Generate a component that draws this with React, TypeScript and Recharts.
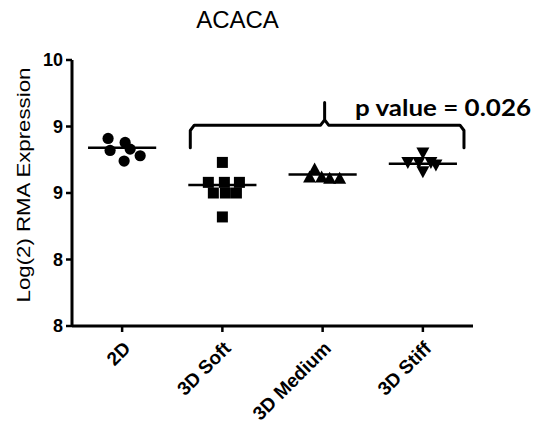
import { ScatterChart, Scatter, XAxis, YAxis, ReferenceLine } from "recharts";

const categories = ["2D", "3D Soft", "3D Medium", "3D Stiff"];
const yTicks = [8, 8.5, 9, 9.5, 10];
const yTickLabels = ["8", "8", "9", "9", "10"];

// per-sample horizontal jitter (category units) and log2 expression
const jitter2D = [-0.14, 0.03, -0.12, 0.08, 0.02, 0.18];
const values2D = [9.41, 9.38, 9.32, 9.33, 9.24, 9.28];
const jitterSoft = [0.0, -0.14, 0.02, 0.17, -0.09, 0.03, 0.14, 0.0];
const valuesSoft = [9.23, 9.08, 9.08, 9.08, 9.0, 9.0, 9.0, 8.82];
const jitterMedium = [-0.08, -0.13, 0.07, 0.17, -0.01];
const valuesMedium = [9.18, 9.12, 9.11, 9.11, 9.12];
const jitterStiff = [0.0, -0.15, -0.04, 0.08, 0.13, 0.0];
const valuesStiff = [9.3, 9.23, 9.23, 9.23, 9.21, 9.16];
const means = [9.34, 9.06, 9.14, 9.22];

// significance bracket over the 3D groups
const bracketX = [0.68, 0.68, 0.72, 1.98, 2.02, 2.02, 2.02, 2.06, 3.37, 3.41, 3.41];
const bracketY = [9.34, 9.47, 9.51, 9.51, 9.55, 9.68, 9.55, 9.51, 9.51, 9.47, 9.34];
const pLabel = "p value = 0.026";

const toPoints = (cat: number, jit: number[], vals: number[]) =>
  vals.map((v, i) => ({ x: cat + jit[i], y: v }));

const bracket = bracketX.map((x, i) => ({ x, y: bracketY[i] }));

const Dot = (p: any) => <circle cx={p.cx} cy={p.cy} r={5.6} fill="#000" />;
const Sq = (p: any) => <rect x={p.cx - 5.5} y={p.cy - 5.5} width={11} height={11} fill="#000" />;
const Tri = (p: any) => (
  <polygon points={`${p.cx},${p.cy - 6.5} ${p.cx - 6.5},${p.cy + 5.5} ${p.cx + 6.5},${p.cy + 5.5}`} fill="#000" />
);
const TriDown = (p: any) => (
  <polygon points={`${p.cx},${p.cy + 6.5} ${p.cx - 6.5},${p.cy - 5.5} ${p.cx + 6.5},${p.cy - 5.5}`} fill="#000" />
);
const Nothing = () => <g />;

const XTick = ({ x, y, payload }: any) => {
  const ax = x + 5;
  const ay = y + 11;
  return (
    <text
      x={ax}
      y={ay}
      transform={`rotate(-45 ${ax} ${ay})`}
      textAnchor="end"
      dominantBaseline="central"
      fontFamily="Liberation Sans, Arial, sans-serif"
      fontWeight="bold"
      fontSize={19}
      fill="#000"
    >
      {categories[payload.value]}
    </text>
  );
};

export default function App() {
  const font = "Liberation Sans, Arial, sans-serif";
  return (
    <div style={{ position: "absolute", left: 0, top: 0, width: 537, height: 432, background: "#fff" }}>
      <ScatterChart width={537} height={432} margin={{ top: 60, right: 64, bottom: 46, left: 22 }}>
        <XAxis
          type="number"
          dataKey="x"
          domain={[-0.5, 3.5]}
          ticks={[0, 1, 2, 3]}
          height={60}
          tick={<XTick />}
          tickSize={6}
          axisLine={{ stroke: "#000", strokeWidth: 3 }}
          tickLine={{ stroke: "#000", strokeWidth: 2.5 }}
          allowDataOverflow
        />
        <YAxis
          type="number"
          dataKey="y"
          domain={[8, 10]}
          ticks={yTicks}
          width={50}
          tickSize={6}
          tickMargin={3}
          tickFormatter={(v: number) => yTickLabels[yTicks.indexOf(v)]}
          tick={{ fill: "#000", fontSize: 18, fontWeight: "bold", fontFamily: font }}
          axisLine={{ stroke: "#000", strokeWidth: 3 }}
          tickLine={{ stroke: "#000", strokeWidth: 2.5 }}
          allowDataOverflow
        />
        {means.map((m, i) => (
          <ReferenceLine
            key={i}
            segment={[{ x: i - 0.34, y: m }, { x: i + 0.34, y: m }]}
            stroke="#000"
            strokeWidth={2.5}
            ifOverflow="visible"
          />
        ))}
        <Scatter data={toPoints(0, jitter2D, values2D)} shape={Dot} isAnimationActive={false} />
        <Scatter data={toPoints(1, jitterSoft, valuesSoft)} shape={Sq} isAnimationActive={false} />
        <Scatter data={toPoints(2, jitterMedium, valuesMedium)} shape={Tri} isAnimationActive={false} />
        <Scatter data={toPoints(3, jitterStiff, valuesStiff)} shape={TriDown} isAnimationActive={false} />
        <Scatter
          data={bracket}
          shape={Nothing}
          line={{ stroke: "#000", strokeWidth: 3, strokeLinejoin: "round", strokeLinecap: "round", fill: "none" }}
          isAnimationActive={false}
        />
      </ScatterChart>
      <div
        style={{
          position: "absolute", left: 0, top: 7, width: 475, textAlign: "center",
          fontFamily: font, fontSize: 24, lineHeight: "26px", color: "#000",
        }}
      >
        ACACA
      </div>
      <div
        style={{
          position: "absolute", left: -126, top: 173, width: 300, height: 24, textAlign: "center",
          fontFamily: font, fontSize: 19, lineHeight: "24px", color: "#000",
          transform: "rotate(-90deg) scaleX(1.17)",
        }}
      >
        Log(2) RMA Expression
      </div>
      <div
        style={{
          position: "absolute", left: 355, top: 95, whiteSpace: "nowrap",
          fontFamily: "Lato, sans-serif", fontWeight: "bold", fontSize: 22, lineHeight: "26px", color: "#000",
          transform: "scaleX(1.18)", transformOrigin: "left center",
        }}
      >
        {pLabel}
      </div>
    </div>
  );
}
